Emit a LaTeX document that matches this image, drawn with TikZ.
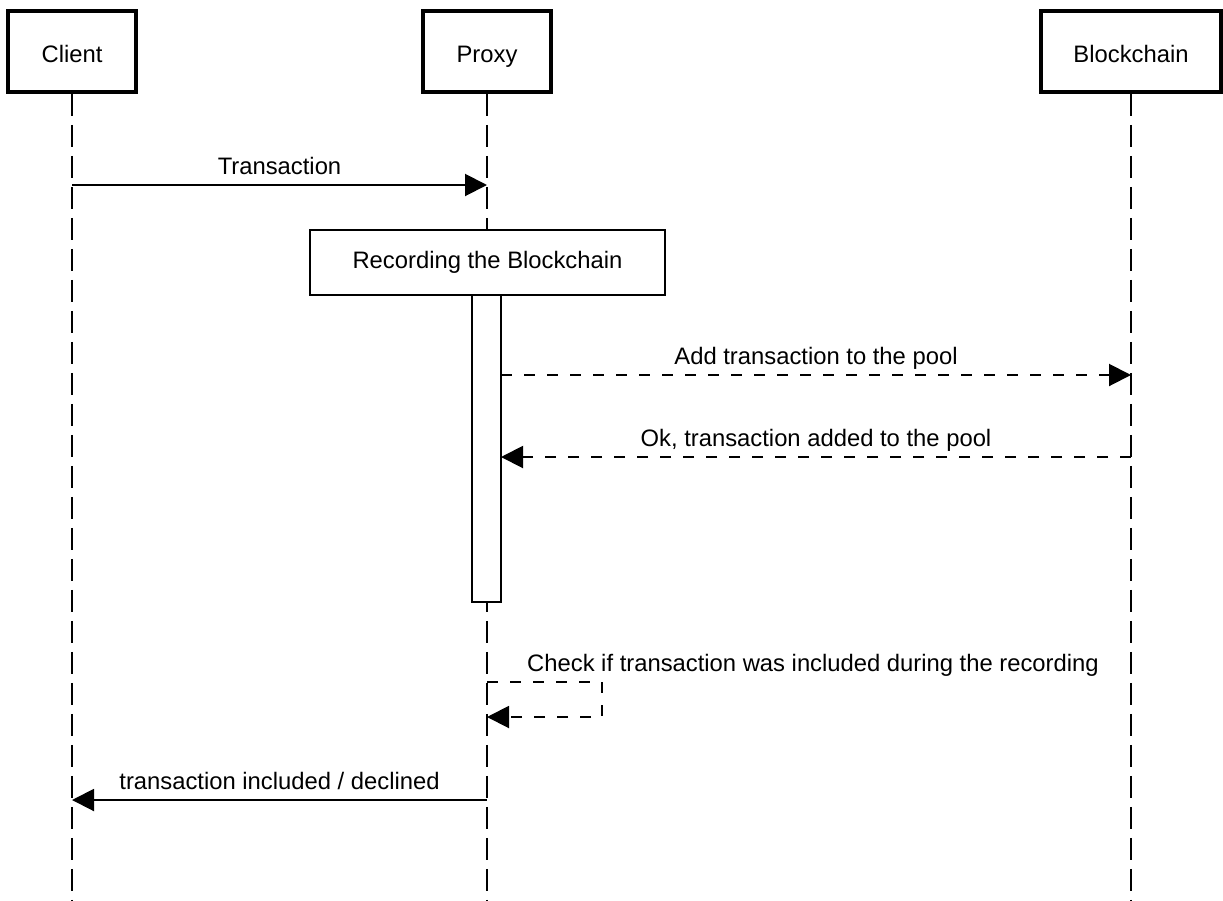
\documentclass[tikz,border=0pt]{standalone}
\usepackage{fontspec}
\setmainfont{Liberation Sans}
\usetikzlibrary{arrows.meta}
\begin{document}
\begin{tikzpicture}[x=1pt,y=-1pt,
  font=\fontsize{23.8}{27}\selectfont,
  header/.style={draw,line width=3.5pt,fill=white,minimum height=81pt,inner sep=0pt,text height=21pt,text depth=0pt},
  lifeline/.style={line width=2pt,dash pattern=on 22pt off 9pt},
  msg/.style={line width=2pt,-{Triangle[length=22pt,width=22pt]}},
  dmsg/.style={msg,dash pattern=on 11pt off 12pt},
  lbl/.style={inner sep=0pt,anchor=base},
  box/.style={draw,line width=2pt,fill=white,inner sep=0pt}]
\useasboundingbox (0,0) rectangle (1223,900);
% headers
\node[header,minimum width=128pt] (client) at (72,51.5) {Client};
\node[header,minimum width=128pt] (proxy) at (487,51.5) {Proxy};
\node[header,minimum width=180pt] (chain) at (1131,51.5) {Blockchain};
% lifeline ends
\coordinate (clientEnd) at (72,900);
\coordinate (proxyEnd) at (487,900);
\coordinate (chainEnd) at (1131,900);
\draw[lifeline] (client.south) -- (clientEnd);
\draw[lifeline] (proxy.south) -- (proxyEnd);
\draw[lifeline] (chain.south) -- (chainEnd);
% recording box and activation bar
\node[box,minimum width=355pt,minimum height=65pt,text height=17pt,text depth=5pt] (rec) at (487.5,262.5) {Recording the Blockchain};
\node[box,minimum width=29pt,minimum height=307pt] (act) at (486.5,448.5) {};
% message points
\coordinate (c1) at (72,185);
\coordinate (p1) at (487,185);
\coordinate (a2) at (501,375);
\coordinate (b2) at (1131,375);
\coordinate (b3) at (1131,457);
\coordinate (a3) at (501,457);
\coordinate (s1) at (487,682);
\coordinate (s2) at (602,682);
\coordinate (s3) at (602,717);
\coordinate (s4) at (487,717);
\coordinate (p5) at (487,800);
\coordinate (c5) at (72,800);
% messages
\draw[msg] (c1) -- (p1);
\node[lbl] (t1) at (279.5,174) {Transaction};
\draw[dmsg] (a2) -- (b2);
\node[lbl] (t2) at (816,364) {Add transaction to the pool};
\draw[dmsg] (b3) -- (a3);
\node[lbl] (t3) at (816,446) {Ok, transaction added to the pool};
\draw[dmsg] (s1) -- (s2) -- (s3) -- (s4);
\node[lbl,anchor=base west] (t4) at (527,671) {Check if transaction was included during the recording};
\draw[msg] (p5) -- (c5);
\node[lbl] (t5) at (279.5,789) {transaction included / declined};
\end{tikzpicture}
\end{document}
